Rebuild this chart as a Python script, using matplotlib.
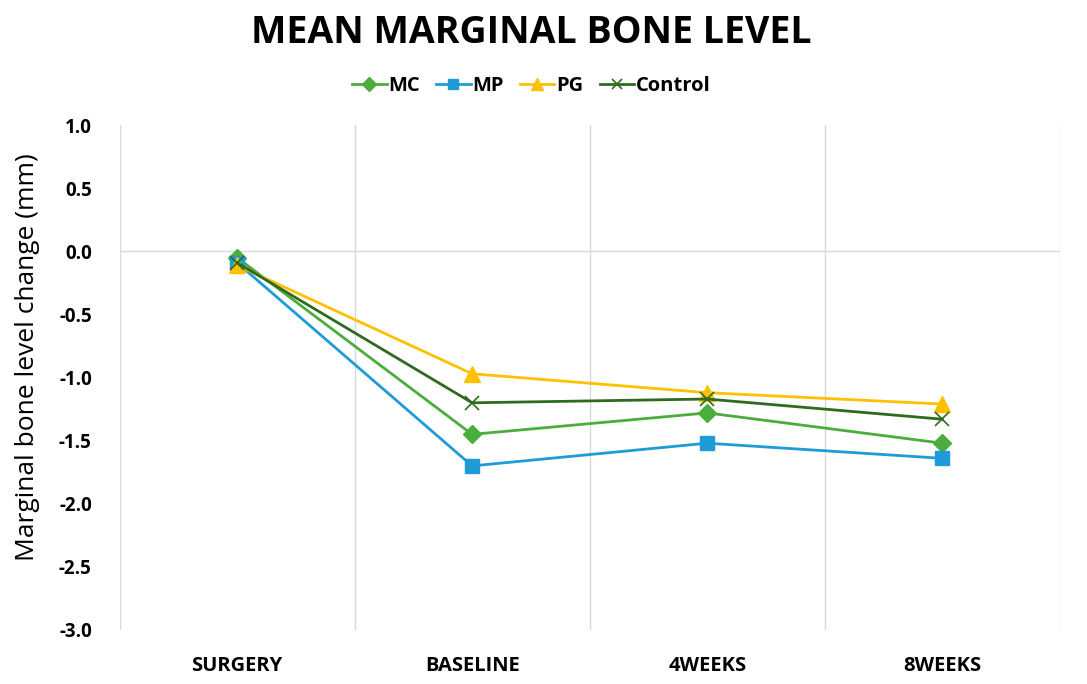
import numpy as np
import matplotlib
matplotlib.use("Agg")
from matplotlib import pyplot as plt

plt.rcParams['font.family'] = ['Open Sans', 'DejaVu Sans']

categories = ['SURGERY', 'BASELINE', '4WEEKS', '8WEEKS']
mc = [-0.05, -1.45, -1.28, -1.52]
mp = [-0.09, -1.70, -1.52, -1.64]
pg = [-0.11, -0.97, -1.12, -1.21]
control = [-0.09, -1.20, -1.17, -1.33]
yticks = [1.0, 0.5, 0.0, -0.5, -1.0, -1.5, -2.0, -2.5, -3.0]

fig = plt.figure(figsize=(10.87, 6.84), dpi=100)
ax = fig.add_axes([0.110, 0.079, 0.865, 0.738])

x = np.arange(len(categories))
ax.plot(x, mc, color='#4aad3c', marker='D', ms=9, lw=2, label='MC', zorder=3)
ax.plot(x, mp, color='#1f9bd7', marker='s', ms=10, lw=2, label='MP', zorder=3)
ax.plot(x, pg, color='#ffc000', marker='^', ms=11, lw=2, label='PG', zorder=3)
ax.plot(x, control, color='#2e6b1f', marker='x', ms=10, mew=1.2, lw=2, label='Control', zorder=4)

ax.set_xlim(-0.5, 3.5)
ax.set_ylim(-3.0, 1.0)
ax.set_xticks(x)
ax.set_xticklabels(categories, fontsize=14.5, fontweight='bold')
ax.set_yticks(yticks)
ax.set_yticklabels(['%.1f' % v for v in yticks], fontsize=13.5, fontweight='bold')
ax.tick_params(axis='x', length=0, pad=19)
ax.tick_params(axis='y', length=0, pad=20)
ax.set_xticks(np.arange(-0.5, 4.0, 1.0), minor=True)
ax.tick_params(which='minor', length=0)
ax.grid(True, which='minor', axis='x', color='#d9d9d9', lw=1)
ax.axhline(0, color='#d9d9d9', lw=1, zorder=1)
for s in ax.spines.values():
    s.set_visible(False)
ax.set_ylabel('Marginal bone level change (mm)', fontsize=19)
ax.yaxis.set_label_coords(-0.085, 0.54)

fig.suptitle('MEAN MARGINAL BONE LEVEL', fontsize=27, fontweight='bold', x=0.489, y=0.98)
fig.legend(loc='upper center', bbox_to_anchor=(0.489, 0.915), ncol=4, frameon=False,
           prop={'size': 14.5, 'weight': 'bold'}, handlelength=1.7, columnspacing=0.8,
           handletextpad=0.1, markerscale=0.75)

plt.savefig('out.png')
